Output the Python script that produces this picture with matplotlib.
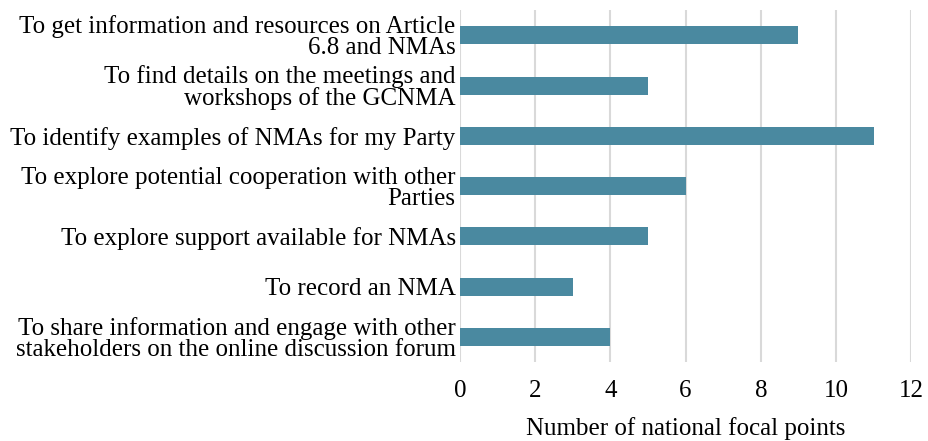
import matplotlib.pyplot as plt

# data
labels = [
    "To get information and resources on Article\n6.8 and NMAs",
    "To find details on the meetings and\nworkshops of the GCNMA",
    "To identify examples of NMAs for my Party",
    "To explore potential cooperation with other\nParties",
    "To explore support available for NMAs",
    "To record an NMA",
    "To share information and engage with other\nstakeholders on the online discussion forum",
]
counts = [9, 5, 11, 6, 5, 3, 4]
xticks = [0, 2, 4, 6, 8, 10, 12]

plt.rcParams['font.family'] = ['Liberation Serif', 'DejaVu Serif']

fig = plt.figure(figsize=(9.29, 4.41), dpi=100)
ax = fig.add_axes([0.495, 0.179, 0.486, 0.798])

pos = list(range(len(labels)))
ax.barh(pos, counts, height=0.36, color='#4A89A0', zorder=3)

ax.set_ylim(len(labels) - 0.5, -0.5)
ax.set_xlim(0, 12)
ax.set_xticks(xticks)
ax.set_yticks(pos)
ax.set_yticklabels(labels, fontsize=18, linespacing=0.95)
ax.tick_params(axis='x', labelsize=18, length=0, pad=13)
ax.tick_params(axis='y', length=0, pad=3)
ax.xaxis.grid(True, color='#d9d9d9', linewidth=1.5, zorder=0)
ax.set_axisbelow(True)
for spine in ['top', 'right', 'bottom', 'left']:
    ax.spines[spine].set_visible(False)

ax.set_xlabel("Number of national focal points", fontsize=18, labelpad=11)

fig.savefig("out.png", dpi=100)
